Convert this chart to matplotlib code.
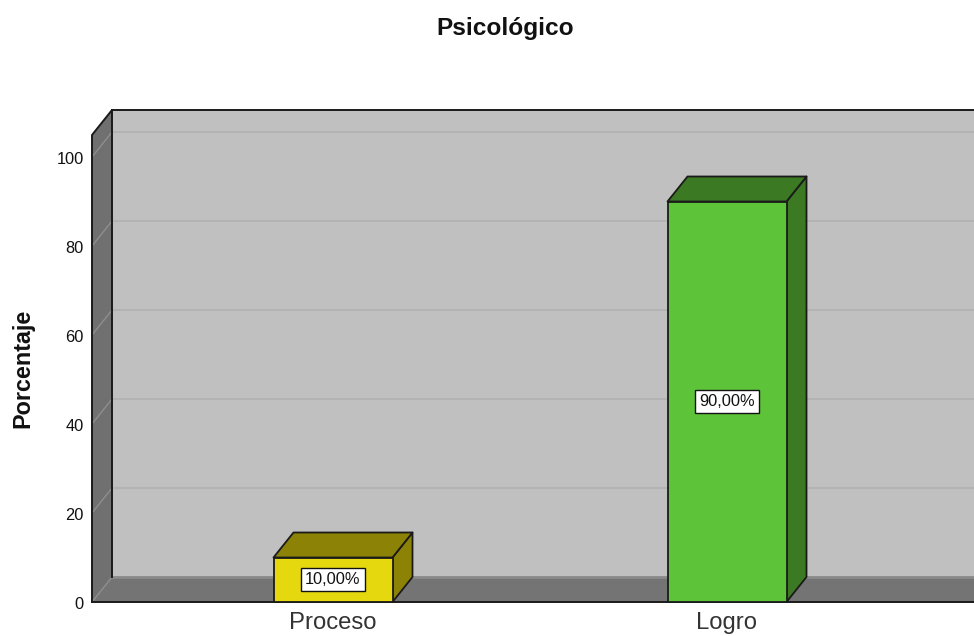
import matplotlib
matplotlib.use("Agg")
import matplotlib.pyplot as plt
from matplotlib.patches import Polygon
from matplotlib.transforms import ScaledTranslation

plt.rcParams['font.family'] = ['Liberation Sans', 'DejaVu Sans']

title = "Psicológico"
ylabel = "Porcentaje"
categories = ["Proceso", "Logro"]
values = [10, 90]
labels = ["10,00%", "90,00%"]
yticks = [0, 20, 40, 60, 80, 100]
front_colors = ["#E6D80E", "#5DC43A"]
dark_colors = ["#8C8206", "#3B7923"]

W, H = 974, 636
fig = plt.figure(figsize=(W / 100, H / 100), dpi=100, facecolor="white")
L, R, B, T = 92, 974, 602, 135
ax = fig.add_axes([L / W, (H - B) / H, (R - L) / W, (B - T) / H])

px_x = 394.0   # pixels per category step
px_y = 4.45    # pixels per percent
xmin = (L - 333) / px_x
xmax = (R - 333) / px_x
ymax = (B - T) / px_y
ax.set_xlim(xmin, xmax)
ax.set_ylim(0, ymax)
DX = 20 / px_x
DY = 25 / px_y
BW = 119 / px_x
EDGE = "#1A1A1A"


def poly(pts, fc, ec="none", lw=0.0, z=1, clip=False):
    p = Polygon(pts, closed=True, facecolor=fc, edgecolor=ec, linewidth=lw,
                zorder=z, joinstyle="round")
    p.set_clip_on(clip)
    ax.add_patch(p)


# walls
poly([(xmin + DX, DY), (xmax + 1, DY), (xmax + 1, ymax + DY), (xmin + DX, ymax + DY)], "#C0C0C0", z=1)
poly([(xmin, 0), (xmin + DX, DY), (xmin + DX, ymax + DY), (xmin, ymax)], "#707070", z=1)
poly([(xmin, 0), (xmax + 1, 0), (xmax + 1, DY), (xmin + DX, DY)], "#747474", z=1)

# grid
for y in yticks[1:]:
    ax.plot([xmin + DX, xmax], [y + DY, y + DY], color="#B3B3B3", lw=1.4, zorder=2, clip_on=False)
    ax.plot([xmin, xmin + DX], [y, y + DY], color="#8E8E8E", lw=1.0, zorder=2, clip_on=False)
ax.plot([xmin + DX, xmax], [DY, DY], color="#8A8A8A", lw=2.0, zorder=2, clip_on=False)
ax.plot([xmin, xmin + DX], [0, DY], color="#8E8E8E", lw=1.0, zorder=2, clip_on=False)

# wall outlines
ax.plot([xmin + DX, xmin + DX], [DY, ymax + DY], color=EDGE, lw=1.4, zorder=3, clip_on=False)
ax.plot([xmin, xmin, xmin + DX, xmax], [0, ymax, ymax + DY, ymax + DY],
        color=EDGE, lw=1.4, zorder=3, clip_on=False, solid_joinstyle="round")
ax.plot([xmin, xmax], [0, 0], color=EDGE, lw=1.4, zorder=3, clip_on=False)

# bars
for i, (v, txt, fc, dc) in enumerate(zip(values, labels, front_colors, dark_colors)):
    x0, x1 = i - BW / 2, i + BW / 2
    poly([(x1, 0), (x1 + DX, DY), (x1 + DX, v + DY), (x1, v)], dc, EDGE, 1.3, z=4)
    poly([(x0, v), (x1, v), (x1 + DX, v + DY), (x0 + DX, v + DY)], dc, EDGE, 1.3, z=4)
    ax.bar(i, v, width=BW, color=fc, edgecolor=EDGE, linewidth=1.3, zorder=5, clip_on=False)
    ax.annotate(txt, xy=(i, v / 2), xytext=(0, 0), textcoords="offset points",
                ha="center", va="center", fontsize=11.8, color="#111111", zorder=6,
                bbox=dict(boxstyle="square,pad=0.24", facecolor="white", edgecolor="#111111", linewidth=1.0))

# axes furniture
for s in ax.spines.values():
    s.set_visible(False)
ax.patch.set_visible(False)
ax.set_yticks(yticks)
ax.set_yticklabels([str(t) for t in yticks], fontsize=11.8, color="#111111")
ax.tick_params(axis="y", length=0, pad=6)
shift = ScaledTranslation(0, -0.5 / 72, fig.dpi_scale_trans)
for lbl in ax.get_yticklabels():
    lbl.set_transform(lbl.get_transform() + shift)
ax.set_xticks(range(len(categories)))
ax.set_xticklabels(categories, fontsize=17.2, color="#333333")
ax.tick_params(axis="x", length=0, pad=7.5)

fig.text(505 / W, 1 - 28 / H, title, ha="center", va="center", fontsize=17.6, fontweight="bold", color="#111111")
fig.text(23 / W, 1 - 368 / H, ylabel, ha="center", va="center", rotation=90, fontsize=16.8,
         fontweight="bold", color="#111111")

fig.savefig("out.png", dpi=100, facecolor="white")
